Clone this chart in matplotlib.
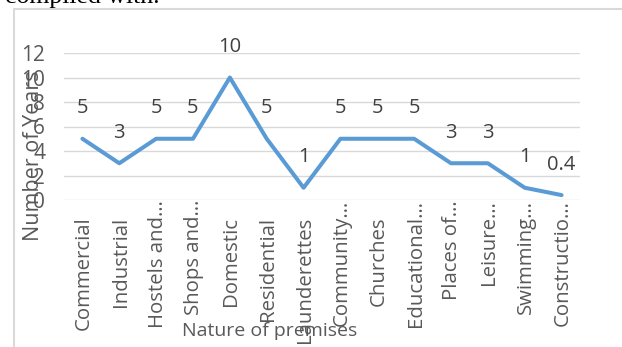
import matplotlib.pyplot as plt
import numpy as np

# data
categories = ['Commercial', 'Industrial', 'Hostels and…', 'Shops and…',
              'Domestic', 'Residential', 'Launderettes', 'Community…',
              'Churches', 'Educational…', 'Places of…', 'Leisure…',
              'Swimming…', 'Constructio…']
years = [5, 3, 5, 5, 10, 5, 1, 5, 5, 5, 3, 3, 1, 0.4]
value_labels = ['5', '3', '5', '5', '10', '5', '1', '5', '5', '5', '3', '3', '1', '0.4']
y_ticks = [0, 2, 4, 6, 8, 10, 12]

W, H = 622, 347
DPI = 100
GREY = '#595959'
FONT = 'Open Sans'

plt.rcParams['font.family'] = [FONT, 'DejaVu Sans']

fig = plt.figure(figsize=(W / DPI, H / DPI), dpi=DPI)


def fx(px):
    return px / W


def fy(py):
    return 1 - py / H


# chart frame, cut by the page edge like a word document screenshot
frame = plt.Line2D([fx(13.5), fx(13.5), fx(W)], [fy(H), fy(8.5), fy(8.5)],
                   transform=fig.transFigure, color='#d9d9d9', lw=1.5)
fig.add_artist(frame)
fig.text(fx(5), fy(2.5), 'complied with.', family='Liberation Serif',
         fontsize=18.5, color='black', va='baseline', ha='left')

ax = fig.add_axes([fx(64), fy(200), fx(580) - fx(64), fy(53) - fy(200)])
x = np.arange(len(categories))
ax.plot(x, years, color='#5b9bd5', lw=2.9, solid_joinstyle='round',
        solid_capstyle='round', zorder=3)

for xi, yi, lab in zip(x, years, value_labels):
    ax.annotate(lab, (xi, yi), xytext=(0, 22), textcoords='offset points',
                ha='center', va='center', fontsize=14.5, color='#404040')

ax.set_xlim(-0.5, len(categories) - 0.5)
ax.set_ylim(0, 12)
ax.set_yticks(y_ticks)
ax.set_yticklabels([str(t) for t in y_ticks], fontsize=15, color=GREY)
ax.tick_params(axis='y', length=0, pad=13.5)
ax.grid(axis='y', color='#d9d9d9', lw=1)
ax.set_axisbelow(True)
for s in ax.spines.values():
    s.set_visible(False)

# category labels: Excel pushes the truncated ones up to the axis line
ax.set_xticks([])
for xi, lab in zip(x, categories):
    off = 0 if lab.endswith('…') else -12
    ax.annotate(lab, (xi, 0), xytext=(1, off), textcoords='offset points',
                rotation=90, ha='center', va='top', fontsize=14.7,
                color=GREY, annotation_clip=False)

fig.text(fx(270), fy(331), 'Nature of premises', fontsize=14, color=GREY,
         ha='center', va='center')
fig.text(fx(34), fy(156), 'Number of Years', fontsize=15.5, color=GREY,
         rotation=90, ha='center', va='center')

fig.savefig('out.png', dpi=DPI)
